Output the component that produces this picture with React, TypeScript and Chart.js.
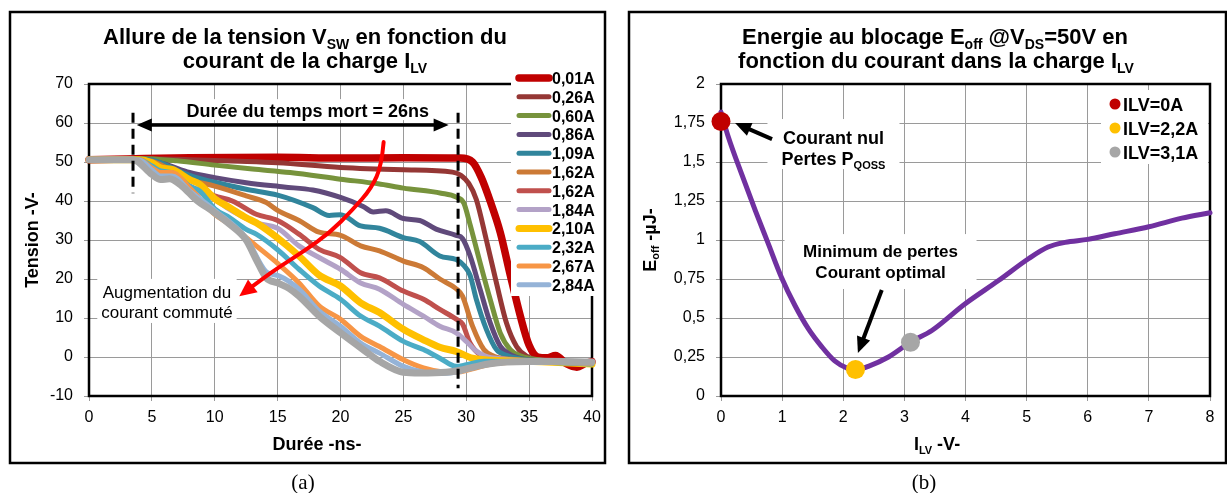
import React, { useEffect, useRef } from 'react';
import { Chart, registerables } from 'chart.js';

Chart.register(...registerables);

const SANS = '"Liberation Sans", Arial, Helvetica, sans-serif';
const SERIF = '"Liberation Serif", "Times New Roman", serif';

// ---------------- Panel (a) : V_SW versus time ----------------
const CURRENT_LABELS = ['0,01A', '0,26A', '0,60A', '0,86A', '1,09A', '1,62A', '1,62A', '1,84A', '2,10A', '2,32A', '2,67A', '2,84A', ''];

const V_001 = [[0, 50.6], [3, 50.8], [8, 51.1], [15, 51.2], [20, 51], [25, 51.1], [29.5, 51], [30.5, 50], [31.2, 46], [31.9, 40], [32.7, 32], [33.5, 21], [34.3, 10.5], [35, 3], [35.7, 0], [36.4, -0.2], [37.1, 0.4], [38, -1.8], [38.8, -2.6], [39.5, -1.6], [40, -1.2]];
const V_026 = [[0, 50.6], [3.5, 50.9], [8, 50.6], [12, 50.2], [15, 49.8], [20, 48.6], [25, 48], [28.9, 47.4], [29.6, 46.5], [30.2, 44.5], [30.8, 40.4], [31.6, 30], [32.4, 19], [33.2, 8.7], [34, 2.7], [34.8, 0.2], [36, -0.8], [40, -1.2]];
const V_060 = [[0, 50.6], [4, 50.9], [7, 50.3], [10, 49.2], [13, 48.2], [16, 47.3], [20, 45.6], [23, 44.4], [25, 43.3], [28, 42], [29.2, 41], [29.8, 39.5], [30.3, 34], [31.1, 24.2], [31.9, 14.8], [32.7, 6.2], [33.5, 1.9], [34.3, 0.3], [36, -0.8], [40, -1.3]];
const V_086 = [[0, 50.6], [4, 50.8], [6, 49.5], [8, 47.3], [10, 46], [12.5, 44.7], [15.5, 43.6], [17.8, 42.8], [20, 40.9], [21.8, 38.6], [22.6, 37.2], [23.6, 37.5], [25, 35.5], [26.3, 35], [27.6, 32.8], [29.2, 31.2], [29.7, 30.4], [30.3, 26], [31.1, 17.4], [31.9, 8.8], [32.7, 2.8], [33.5, 0.6], [34.5, -0.5], [36, -1], [40, -1.4]];
const V_109 = [[0, 50.6], [4, 50.8], [5, 50.5], [8, 46.6], [10, 44.8], [12.5, 43], [15, 41.5], [17.8, 38.3], [19.1, 36.3], [20, 36.5], [21.6, 33.6], [23.1, 33], [25, 30.6], [26.3, 29.6], [27.9, 25.9], [29.2, 25], [29.8, 23.5], [30.3, 21], [30.8, 14.8], [31.6, 7.1], [32.4, 1.9], [33.2, 0.4], [35, -0.8], [40, -1.4]];
const V_162A = [[0, 50.6], [4, 50.6], [5, 50.2], [8, 45.5], [10, 43.8], [12.5, 41.3], [14.1, 39.6], [15, 37.6], [16.7, 35], [18.3, 32], [20, 31.2], [21.6, 28.5], [23.1, 27.2], [25, 24.6], [26.6, 22.9], [27.9, 20], [29.2, 17.5], [29.7, 15.6], [30.5, 7.9], [31.4, 1.9], [32.2, 0.2], [34, -0.7], [40, -1.4]];
const V_162B = [[0, 50.6], [4, 50.6], [5, 49.8], [8, 43.8], [10, 41.3], [11.4, 40], [13.3, 36.6], [15, 35], [16.7, 31.5], [18.3, 27.6], [20, 25.5], [21.6, 21.6], [23.1, 20.3], [25, 16.9], [26.6, 14.8], [27.9, 12.2], [29.2, 9.7], [29.7, 8.5], [30.3, 3.6], [31.1, 0.6], [32.5, -0.5], [40, -1.4]];
const V_184 = [[0, 50.6], [4, 50.6], [5, 49.5], [8, 43.4], [10, 40.4], [11.4, 37.4], [13.3, 34.4], [15, 33], [16.7, 28.5], [18.3, 25.5], [20, 22.5], [21.6, 19], [23.1, 17.4], [25, 13.5], [26.6, 10.5], [27.9, 7.9], [29.2, 6.2], [30, 4], [30.8, 1.5], [32, -0.2], [40, -1.4]];
const V_210 = [[0, 50.6], [4, 50.6], [5, 49.8], [5.7, 48.5], [6.6, 48.1], [8, 45.5], [8.8, 44.3], [10, 40.6], [11.2, 38.3], [12.5, 35.7], [13.3, 34.4], [15, 30.5], [16.7, 25.9], [18.3, 21], [20, 18.2], [21.6, 13.9], [23.1, 11.4], [25, 7.1], [26.6, 4.4], [27.9, 2.5], [29.2, 1.4], [30.5, -0.3], [32, -0.8], [36, -1.2], [40, -1.8]];
const V_232 = [[0, 50.6], [4, 50.6], [5, 49], [5.7, 47.7], [6.6, 47.3], [8, 43.8], [8.8, 42.6], [10, 38], [11.2, 35.7], [12.5, 32.7], [13.3, 31.5], [15, 27.5], [16.7, 22.5], [18.3, 18.2], [20, 14.8], [21.6, 10.5], [23.1, 7.9], [25, 4], [26.6, 1.9], [27.9, -0.3], [29.2, -2.4], [30, -2], [31.4, -1.1], [35, -1.2], [40, -1.8]];
const V_267 = [[0, 50.6], [4, 50.6], [5, 48.5], [5.7, 47.3], [6.6, 47.3], [8, 43.4], [10, 36.6], [11.2, 34], [12.5, 30.6], [13.3, 28.5], [15, 24], [16.7, 19], [18.3, 13.1], [20, 9.7], [21.6, 5.3], [23.1, 2.7], [25, -0.7], [26.6, -2.8], [27.9, -3.7], [29.2, -3.9], [30.5, -3], [32, -1.8], [35, -1.3], [40, -1.6]];
const V_284 = [[0, 50.6], [4, 50.5], [5, 48], [5.7, 46.4], [6.6, 46.4], [8, 42.6], [10, 37.6], [12.5, 30.5], [14.1, 21.8], [15.1, 20.8], [16.7, 17.4], [18.3, 11.8], [20, 7.9], [21.6, 3.6], [23.1, 1], [25, -2.4], [26.6, -3.9], [28, -4.2], [29.5, -3.7], [31, -2.3], [33, -1.4], [40, -1.3]];
const V_GREY = [[0, 50.6], [3.5, 50.6], [5, 46.8], [5.7, 45.5], [6.4, 45.7], [7.4, 43.8], [8.5, 40.4], [10, 37], [11.2, 34], [12.5, 30], [13.3, 25], [14.1, 20.3], [15, 19], [15.9, 17.6], [16.7, 15.6], [18.3, 10.5], [20, 6.2], [21.8, 1.9], [23.1, -1.1], [25, -3.9], [26.3, -4.1], [28.4, -3.9], [29.5, -3.4], [31.1, -2.2], [32.5, -1.5], [35.9, -1.1], [40, -1.3]];

const VSW_SERIES = [V_001, V_026, V_060, V_086, V_109, V_162A, V_162B, V_184, V_210, V_232, V_267, V_284, V_GREY];
const SERIES_COLORS = ['#C00000', '#953735', '#77933C', '#604A7B', '#31859C', '#CC7A36', '#C0504D', '#B3A2C7', '#FFC000', '#4BACC6', '#F79646', '#95B3D7', '#A6A6A6'];
const SERIES_WIDTHS = [7.5, 5, 5, 5, 5, 5, 5, 5, 7, 5, 5, 5, 7];

const TIME_RANGE = [0, 40, 5];
const VOLT_RANGE = [-10, 70, 10];

// annotations of panel (a), in data units (ns, V)
const DEAD_START = 3.5;
const DEAD_END = 29.35;
const DEAD_ARROW = [3.8, 28.6, 59.5];
const DEAD_TEXT = ['Durée du temps mort = 26ns', 17.4, 63.3];
const RED_ARROW = [[23.43, 55.1], [23.27, 49.2], [22.47, 43.3], [20.96, 37.7], [19.12, 31.8], [17.13, 27.2], [15.14, 23.1], [13.55, 19.5], [11.95, 15.6]];
const INCREASE_TEXT = ['Augmentation du', 'courant commuté'];
const INCREASE_POS = [6.2, 16.7, 11.55];

// ---------------- Panel (b) : E_off versus I_LV ----------------
const ILV_A = [0, 0.12, 0.34, 0.56, 0.77, 0.99, 1.21, 1.43, 1.65, 1.86, 2.08, 2.2, 2.41, 2.74, 3.1, 3.45, 3.99, 4.54, 5.03, 5.35, 5.63, 6, 6.44, 7, 7.54, 8];
const EOFF_UJ = [1.82, 1.66, 1.42, 1.19, 0.98, 0.76, 0.58, 0.43, 0.315, 0.225, 0.175, 0.167, 0.19, 0.25, 0.345, 0.42, 0.59, 0.74, 0.88, 0.955, 0.985, 1.004, 1.04, 1.085, 1.14, 1.175];
const MARK_LABELS = ['ILV=0A', 'ILV=2,2A', 'ILV=3,1A'];
const MARK_ILV = [0, 2.2, 3.1];
const MARK_EOFF = [1.76, 0.17, 0.345];
const MARK_COLORS = ['#C00000', '#FFC000', '#A6A6A6'];
const ILV_RANGE = [0, 8, 1];
const EOFF_RANGE = [0, 2, 0.25];

// annotations of panel (b), in data units (A, µJ)
const NUL_TEXT_POS = [1.84, 1.66, 1.525];
const NUL_ARROW = [0.835, 1.647, 0.23, 1.75];
const MIN_TEXT = ['Minimum de pertes', 'Courant optimal'];
const MIN_TEXT_POS = [2.61, 0.929, 0.795];
const MIN_ARROW = [2.63, 0.68, 2.24, 0.276];

// ---------------- helpers ----------------
type Part = [string, boolean?];
function rich(ctx: CanvasRenderingContext2D, parts: Part[], x: number, y: number, size: number, bold: boolean, align: 'left' | 'center' | 'right' = 'center', color = '#000') {
  const sub = Math.round(size * 0.62);
  const font = (s: number) => `${bold ? 'bold ' : ''}${s}px ${SANS}`;
  const widths = parts.map(([t, s]) => {
    ctx.font = font(s ? sub : size);
    return ctx.measureText(t).width;
  });
  const total = widths.reduce((a, b) => a + b, 0);
  let cx = align === 'center' ? x - total / 2 : align === 'right' ? x - total : x;
  ctx.save();
  ctx.fillStyle = color;
  ctx.textAlign = 'left';
  ctx.textBaseline = 'alphabetic';
  parts.forEach(([t, s], i) => {
    ctx.font = font(s ? sub : size);
    ctx.fillText(t, cx, y + (s ? size * 0.22 : 0));
    cx += widths[i];
  });
  ctx.restore();
  return total;
}

function head(ctx: CanvasRenderingContext2D, fx: number, fy: number, tx: number, ty: number, len: number, half: number) {
  const a = Math.atan2(ty - fy, tx - fx);
  const bx = tx - len * Math.cos(a);
  const by = ty - len * Math.sin(a);
  ctx.beginPath();
  ctx.moveTo(tx, ty);
  ctx.lineTo(bx + half * Math.sin(a), by - half * Math.cos(a));
  ctx.lineTo(bx - half * Math.sin(a), by + half * Math.cos(a));
  ctx.closePath();
  ctx.fill();
}

function arrow(ctx: CanvasRenderingContext2D, x0: number, y0: number, x1: number, y1: number, color: string, w: number, len: number, half: number) {
  const a = Math.atan2(y1 - y0, x1 - x0);
  ctx.save();
  ctx.strokeStyle = color;
  ctx.fillStyle = color;
  ctx.lineWidth = w;
  ctx.beginPath();
  ctx.moveTo(x0, y0);
  ctx.lineTo(x1 - len * 0.8 * Math.cos(a), y1 - len * 0.8 * Math.sin(a));
  ctx.stroke();
  head(ctx, x0, y0, x1, y1, len, half);
  ctx.restore();
}

function whiteBox(ctx: CanvasRenderingContext2D, x0: number, y0: number, x1: number, y1: number) {
  ctx.save();
  ctx.fillStyle = '#fff';
  ctx.fillRect(x0, y0, x1 - x0, y1 - y0);
  ctx.restore();
}

function frame(ctx: CanvasRenderingContext2D, x: number, y: number, w: number, h: number, lw: number) {
  ctx.save();
  ctx.strokeStyle = '#000';
  ctx.lineWidth = lw;
  ctx.strokeRect(x, y, w, h);
  ctx.restore();
}

const commaFmt = (v: number | string) => String(v).replace('.', ',');

function axisCfg(range: number[], pad: number, fitW: number | null, fitH: number | null, fmt?: (v: any) => string) {
  return {
    type: 'linear' as const,
    min: range[0],
    max: range[1],
    ticks: {
      stepSize: range[2],
      color: '#000',
      font: { family: SANS, size: 16 },
      padding: pad,
      maxRotation: 0,
      autoSkip: false,
      callback: fmt ? (v: any) => fmt(v) : (v: any) => String(v),
    },
    grid: { color: '#9A9A9A', lineWidth: 1, tickLength: 5, tickColor: '#9A9A9A' },
    border: { display: false },
    afterFit: (s: any) => {
      if (fitW !== null) s.width = fitW;
      if (fitH !== null) s.height = fitH;
    },
  };
}

// ---------------- plugins ----------------
const panelAPlugin = {
  id: 'panelA',
  beforeDraw(chart: any) {
    const ctx = chart.ctx as CanvasRenderingContext2D;
    ctx.save();
    ctx.fillStyle = '#fff';
    ctx.fillRect(0, 0, chart.width, chart.height);
    ctx.restore();
    frame(ctx, 10, 12, 595, 451, 2.5);
  },
  beforeDatasetsDraw(chart: any) {
    const { ctx, chartArea: ca } = chart;
    frame(ctx, ca.left, ca.top, ca.right - ca.left, ca.bottom - ca.top, 2.5);
  },
  afterDatasetsDraw(chart: any) {
    const ctx = chart.ctx as CanvasRenderingContext2D;
    const X = (v: number) => chart.scales.x.getPixelForValue(v);
    const Y = (v: number) => chart.scales.y.getPixelForValue(v);

    // dead-time dashed markers
    ctx.save();
    ctx.strokeStyle = '#000';
    ctx.lineWidth = 3;
    ctx.setLineDash([10, 6]);
    ctx.beginPath();
    ctx.moveTo(X(DEAD_START), Y(62.6));
    ctx.lineTo(X(DEAD_START), Y(42));
    ctx.moveTo(X(DEAD_END), Y(62.6));
    ctx.lineTo(X(DEAD_END), Y(-8));
    ctx.stroke();
    ctx.restore();

    // double arrow
    const ay = Y(DEAD_ARROW[2]);
    const ax0 = X(DEAD_ARROW[0]);
    const ax1 = X(DEAD_ARROW[1]);
    ctx.save();
    ctx.strokeStyle = '#000';
    ctx.fillStyle = '#000';
    ctx.lineWidth = 3.5;
    ctx.beginPath();
    ctx.moveTo(ax0 + 10, ay);
    ctx.lineTo(ax1 - 10, ay);
    ctx.stroke();
    head(ctx, ax1, ay, ax0, ay, 15, 6.5);
    head(ctx, ax0, ay, ax1, ay, 15, 6.5);
    ctx.restore();

    // dead-time text
    const tx = X(DEAD_TEXT[1] as number);
    const ty = Y(DEAD_TEXT[2] as number);
    ctx.font = `bold 18px ${SANS}`;
    const tw = ctx.measureText(DEAD_TEXT[0] as string).width;
    whiteBox(ctx, tx - tw / 2 - 4, ty - 11, tx + tw / 2 + 4, ty + 10);
    rich(ctx, [[DEAD_TEXT[0] as string]], tx, ty + 6.5, 18, true);

    // red curved arrow
    const pts = RED_ARROW.map(([t, v]) => [X(t), Y(v)]);
    const n = pts.length;
    const last = pts[n - 1];
    const prev = pts[n - 2];
    const ang = Math.atan2(last[1] - prev[1], last[0] - prev[0]);
    const end = [last[0] - 13 * Math.cos(ang), last[1] - 13 * Math.sin(ang)];
    ctx.save();
    ctx.strokeStyle = '#FF0000';
    ctx.fillStyle = '#FF0000';
    ctx.lineWidth = 4;
    ctx.lineCap = 'round';
    ctx.beginPath();
    ctx.moveTo(pts[0][0], pts[0][1]);
    for (let i = 1; i < n - 2; i++) {
      const mx = (pts[i][0] + pts[i + 1][0]) / 2;
      const my = (pts[i][1] + pts[i + 1][1]) / 2;
      ctx.quadraticCurveTo(pts[i][0], pts[i][1], mx, my);
    }
    ctx.lineTo(end[0], end[1]);
    ctx.stroke();
    head(ctx, prev[0], prev[1], last[0], last[1], 17, 8);
    ctx.restore();

    // "Augmentation du courant commuté"
    const cx = X(INCREASE_POS[0]);
    const y1 = Y(INCREASE_POS[1]);
    const y2 = Y(INCREASE_POS[2]);
    ctx.font = `17px ${SANS}`;
    const w1 = Math.max(ctx.measureText(INCREASE_TEXT[0]).width, ctx.measureText(INCREASE_TEXT[1]).width);
    whiteBox(ctx, cx - w1 / 2 - 4, y1 - 13, cx + w1 / 2 + 4, y2 + 11);
    rich(ctx, [[INCREASE_TEXT[0]]], cx, y1 + 6, 17, false);
    rich(ctx, [[INCREASE_TEXT[1]]], cx, y2 + 6, 17, false);

    // legend
    whiteBox(ctx, 511, 66, 602, 296);
    let k = 0;
    chart.data.datasets.forEach((ds: any) => {
      if (!ds.label) return;
      const y = 78 + 18.8 * k;
      ctx.save();
      ctx.strokeStyle = ds.borderColor;
      ctx.lineWidth = ds.borderWidth;
      ctx.lineCap = 'round';
      ctx.beginPath();
      ctx.moveTo(519, y);
      ctx.lineTo(549, y);
      ctx.stroke();
      ctx.restore();
      rich(ctx, [[ds.label]], 552, y + 6, 16, true, 'left');
      k++;
    });
  },
  afterDraw(chart: any) {
    const ctx = chart.ctx as CanvasRenderingContext2D;
    rich(ctx, [['Allure de la tension V'], ['SW', true], [' en fonction du']], 305, 44, 22, true);
    rich(ctx, [['courant de la charge I'], ['LV', true]], 305, 68, 22, true);
    rich(ctx, [['Durée -ns-']], 317, 450, 18, true);
    ctx.save();
    ctx.translate(31, 240);
    ctx.rotate(-Math.PI / 2);
    rich(ctx, [['Tension -V-']], 0, 6.5, 18, true);
    ctx.restore();
  },
};

const panelBPlugin = {
  id: 'panelB',
  beforeDraw(chart: any) {
    const ctx = chart.ctx as CanvasRenderingContext2D;
    ctx.save();
    ctx.fillStyle = '#fff';
    ctx.fillRect(0, 0, chart.width, chart.height);
    ctx.restore();
    frame(ctx, 15, 12, 597, 451, 2.5);
  },
  beforeDatasetsDraw(chart: any) {
    const { ctx, chartArea: ca } = chart;
    frame(ctx, ca.left, ca.top, ca.right - ca.left, ca.bottom - ca.top, 2.5);
    const X = (v: number) => chart.scales.x.getPixelForValue(v);
    const Y = (v: number) => chart.scales.y.getPixelForValue(v);

    const nx = X(NUL_TEXT_POS[0]);
    whiteBox(ctx, nx - 66, Y(NUL_TEXT_POS[1]) - 18, nx + 66, Y(NUL_TEXT_POS[2]) + 11);
    const mx = X(MIN_TEXT_POS[0]);
    whiteBox(ctx, mx - 96, Y(MIN_TEXT_POS[1]) - 17, mx + 96, Y(MIN_TEXT_POS[2]) + 17);
  },
  afterDatasetsDraw(chart: any) {
    const ctx = chart.ctx as CanvasRenderingContext2D;
    const X = (v: number) => chart.scales.x.getPixelForValue(v);
    const Y = (v: number) => chart.scales.y.getPixelForValue(v);

    const nx = X(NUL_TEXT_POS[0]);
    rich(ctx, [['Courant nul']], nx, Y(NUL_TEXT_POS[1]) + 6.5, 18, true);
    rich(ctx, [['Pertes P'], ['QOSS', true]], nx, Y(NUL_TEXT_POS[2]) + 6.5, 18, true);
    arrow(ctx, X(NUL_ARROW[0]), Y(NUL_ARROW[1]), X(NUL_ARROW[2]), Y(NUL_ARROW[3]), '#000', 4, 16, 7);

    const mx = X(MIN_TEXT_POS[0]);
    rich(ctx, [[MIN_TEXT[0]]], mx, Y(MIN_TEXT_POS[1]) + 6, 17, true);
    rich(ctx, [[MIN_TEXT[1]]], mx, Y(MIN_TEXT_POS[2]) + 6, 17, true);
    arrow(ctx, X(MIN_ARROW[0]), Y(MIN_ARROW[1]), X(MIN_ARROW[2]), Y(MIN_ARROW[3]), '#000', 4, 16, 7);

    // legend
    whiteBox(ctx, 487, 90, 594, 164);
    MARK_LABELS.forEach((lab, i) => {
      const y = 104 + 24 * i;
      ctx.save();
      ctx.fillStyle = MARK_COLORS[i];
      ctx.beginPath();
      ctx.arc(501, y, 5.5, 0, Math.PI * 2);
      ctx.fill();
      ctx.restore();
      rich(ctx, [[lab]], 509, y + 6.5, 18, true, 'left');
    });
  },
  afterDraw(chart: any) {
    const ctx = chart.ctx as CanvasRenderingContext2D;
    rich(ctx, [['Energie au blocage E'], ['off', true], [' @V'], ['DS', true], ['=50V en']], 321, 44, 22, true);
    rich(ctx, [['fonction du courant dans la charge I'], ['LV', true]], 322, 68, 22, true);
    rich(ctx, [['I'], ['LV', true], [' -V-']], 323, 450, 18, true);
    ctx.save();
    ctx.translate(35, 240);
    ctx.rotate(-Math.PI / 2);
    rich(ctx, [['E'], ['off', true], [' -µJ-']], 0, 6.5, 18, true);
    ctx.restore();
  },
};

function configA(): any {
  const datasets = VSW_SERIES.map((pts, i) => ({
    type: 'line',
    label: CURRENT_LABELS[i],
    data: pts.map(([x, y]) => ({ x, y })),
    borderColor: SERIES_COLORS[i],
    backgroundColor: SERIES_COLORS[i],
    borderWidth: SERIES_WIDTHS[i],
    pointRadius: 0,
    cubicInterpolationMode: 'monotone',
    borderCapStyle: 'round',
    borderJoinStyle: 'round',
    fill: false,
    clip: false,
    order: 30 - i,
  }));
  return {
    type: 'line',
    data: { datasets },
    options: {
      responsive: false,
      maintainAspectRatio: false,
      animation: false,
      layout: { padding: { left: 29, right: 22, top: 84, bottom: 57 } },
      plugins: { legend: { display: false }, tooltip: { enabled: false }, title: { display: false } },
      scales: {
        x: axisCfg(TIME_RANGE, 7, null, 40),
        y: axisCfg(VOLT_RANGE, 11, 60, null),
      },
    },
    plugins: [panelAPlugin],
  };
}

function configB(): any {
  const curve = {
    type: 'line',
    label: 'Eoff',
    data: ILV_A.map((x, i) => ({ x, y: EOFF_UJ[i] })),
    borderColor: '#7030A0',
    borderWidth: 5,
    pointRadius: 0,
    cubicInterpolationMode: 'monotone',
    borderCapStyle: 'round',
    borderJoinStyle: 'round',
    fill: false,
    clip: false,
    order: 5,
  };
  const marks = MARK_LABELS.map((lab, i) => ({
    type: 'line',
    label: lab,
    data: [{ x: MARK_ILV[i], y: MARK_EOFF[i] }],
    showLine: false,
    pointRadius: 9.5,
    pointBackgroundColor: MARK_COLORS[i],
    pointBorderWidth: 0,
    pointBorderColor: MARK_COLORS[i],
    clip: false,
    order: 1,
  }));
  return {
    type: 'line',
    data: { datasets: [curve, ...marks] },
    options: {
      responsive: false,
      maintainAspectRatio: false,
      animation: false,
      layout: { padding: { left: 47, right: 17, top: 84, bottom: 57 } },
      plugins: { legend: { display: false }, tooltip: { enabled: false }, title: { display: false } },
      scales: {
        x: axisCfg(ILV_RANGE, 7, null, 40, commaFmt),
        y: axisCfg(EOFF_RANGE, 11, 60, null, commaFmt),
      },
    },
    plugins: [panelBPlugin],
  };
}

const captionStyle = (cx: number): React.CSSProperties => ({
  position: 'absolute',
  left: cx - 40,
  width: 80,
  top: 469,
  textAlign: 'center',
  fontFamily: SERIF,
  fontSize: 21,
  lineHeight: '26px',
  color: '#000',
});

export default function App() {
  const refA = useRef<HTMLCanvasElement>(null);
  const refB = useRef<HTMLCanvasElement>(null);
  useEffect(() => {
    const a = new Chart(refA.current as HTMLCanvasElement, configA());
    const b = new Chart(refB.current as HTMLCanvasElement, configB());
    return () => {
      a.destroy();
      b.destroy();
    };
  }, []);
  return (
    <div style={{ position: 'absolute', left: 0, top: 0, width: 1227, height: 493, background: '#fff', overflow: 'hidden' }}>
      <canvas ref={refA} width={614} height={493} style={{ position: 'absolute', left: 0, top: 0, width: 614, height: 493 }} />
      <canvas ref={refB} width={613} height={493} style={{ position: 'absolute', left: 614, top: 0, width: 613, height: 493 }} />
      <div style={captionStyle(303)}>(a)</div>
      <div style={captionStyle(924)}>(b)</div>
    </div>
  );
}
